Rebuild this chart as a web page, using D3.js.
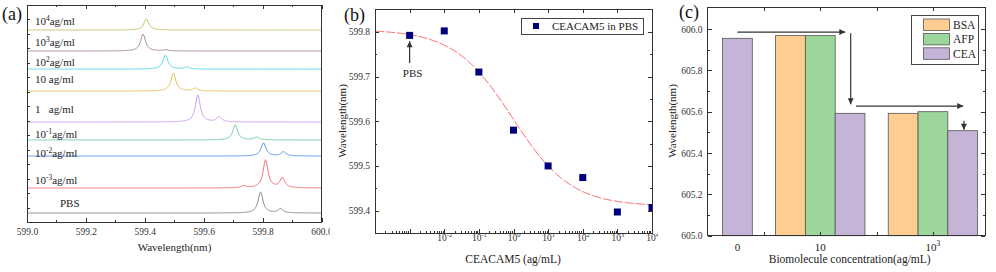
<!DOCTYPE html>
<html lang="en">
<head>
<meta charset="UTF-8">
<title>WGM spectral shift panels</title>
<script src="https://d3js.org/d3.v7.min.js"></script>
<style>
  body { margin: 0; background: #fff; }
  svg { display: block; font-family: "Liberation Serif", "Times New Roman", serif; }
  .axis path, .axis line { stroke: #333; shape-rendering: crispEdges; }
  .axis text { font-family: "Liberation Serif", "Times New Roman", serif; font-size: 9.5px; fill: #333; }
</style>
</head>
<body>
<script>
// ---- (a) spectra ----
const specLabels = ["10^4ag/ml", "10^3ag/ml", "10^2ag/ml", "10 ag/ml", "1   ag/ml", "10^-1ag/ml", "10^-2ag/ml", "10^-3ag/ml", "PBS"];
const specColors = ["#c8c36a", "#ad8c8c", "#55dde6", "#e6c25e", "#c9a2ee", "#72d0a2", "#5c96ee", "#f27474", "#8c8c8c"];
const specOffsets = [13.27, 11.82, 10.57, 9.05, 6.91, 5.67, 4.56, 2.35, 0.62];
// resonance peaks of each trace: [wavelength nm, height a.u.]
const specPeaks = [
  [[599.405, 0.76]],
  [[599.394, 1.17], [599.47, 0.08]],
  [[599.47, 0.97], [599.543, 0.14]],
  [[599.497, 1.24], [599.571, 0.2]],
  [[599.58, 1.87], [599.653, 0.35]],
  [[599.707, 1.04], [599.78, 0.2]],
  [[599.803, 0.9], [599.871, 0.28]],
  [[599.81, 1.94], [599.867, 0.69], [599.735, 0.14]],
  [[599.793, 1.45], [599.861, 0.28]]
];
const waveTicks = [599.0, 599.2, 599.4, 599.6, 599.8, 600.0];

// ---- (b) concentration response ----
const conc = [1e-3, 1e-2, 1e-1, 1, 10, 100, 1000, 10000];
const shiftWl = [599.792, 599.802, 599.710, 599.580, 599.500, 599.474, 599.397, 599.407];
const fitA1 = 599.805, fitA2 = 599.41, fitX0 = 0.935, fitP = 0.515;
const concTickExp = [-2, -1, 0, 1, 2, 3, 4];
const wlTicksB = [599.4, 599.5, 599.6, 599.7, 599.8];

// ---- (c) selectivity bars ----
const groups = ["0", "10", "10^3"];
const bioNames = ["BSA", "AFP", "CEA"];
const bioColors = ["#ffcc91", "#9dd69b", "#c5b4d8"];
const bsaWl = [null, 605.968, 605.592];
const afpWl = [null, 605.968, 605.600];
const ceaWl = [605.955, 605.592, 605.508];
const wlTicksC = [605.0, 605.2, 605.4, 605.6, 605.8, 606.0];

const svg = d3.select("body").append("svg").attr("width", 996).attr("height", 272);
const defs = svg.append("defs");
defs.append("marker").attr("id", "arrow")
  .attr("viewBox", "0 0 10 10").attr("refX", 10).attr("refY", 5)
  .attr("markerWidth", 7).attr("markerHeight", 6).attr("markerUnits", "userSpaceOnUse")
  .attr("orient", "auto")
  .append("path").attr("d", "M0,0L10,5L0,10z").attr("fill", "#333");

function supText(sel, str, size) {
  const parts = str.split(/\^(-?\d+)/);
  let raised = false;
  parts.forEach((p, i) => {
    if (i % 2 === 1) {
      sel.append("tspan").attr("font-size", size * 0.68).attr("dy", -size * 0.4).text(p);
      raised = true;
    } else if (p !== "") {
      sel.append("tspan").attr("dy", raised ? size * 0.4 : 0).text(p);
      raised = false;
    }
  });
}

function frame(g, l, t, r, b) {
  g.append("rect").attr("x", l).attr("y", t).attr("width", r - l).attr("height", b - t)
    .attr("fill", "none").attr("stroke", "#333").attr("shape-rendering", "crispEdges");
}

function ticksOnly(g, axis, tr) {
  g.append("g").attr("class", "axis").attr("transform", tr)
    .call(axis.tickFormat("").tickSizeOuter(0))
    .call(s => s.select(".domain").remove());
}

// ================= panel (a) =================
defs.append("clipPath").attr("id", "clipA").append("rect").attr("width", 330).attr("height", 272);
const gA = svg.append("g").attr("clip-path", "url(#clipA)");
const xA = d3.scaleLinear().domain([599, 600]).range([27, 321.5]);
const yA = d3.scaleLinear().domain([0, 15]).range([222, 5]);

const waveGrid = d3.range(599, 600.0001, 0.002);
const lorentz = (x, c, h) => h * 0.0001 / ((x - c) ** 2 + 0.0001);
const lineA = d3.line().x(d => xA(d[0])).y(d => yA(d[1]));

specPeaks.forEach((peaks, i) => {
  const pts = waveGrid.map(x => [x, specOffsets[i] + d3.sum(peaks, p => lorentz(x, p[0], p[1]))]);
  gA.append("path").datum(pts).attr("d", lineA)
    .attr("fill", "none").attr("stroke", specColors[i]).attr("stroke-width", 1);
});

const labelLift = [5, 5, 3, 8, 9, 2, -1, 4, 6];
specLabels.forEach((lab, i) => {
  const t = gA.append("text")
    .attr("x", lab === "PBS" ? 60 : 35)
    .attr("y", yA(specOffsets[i]) - labelLift[i])
    .attr("font-size", 11).attr("fill", "#222").style("white-space", "pre");
  supText(t, lab, 11);
});

gA.append("g").attr("class", "axis").attr("transform", "translate(0,222)")
  .call(d3.axisBottom(xA).tickValues(waveTicks).tickFormat(d3.format(".1f"))
    .tickSizeInner(-4).tickSizeOuter(0).tickPadding(6))
  .call(s => s.select(".domain").remove());
ticksOnly(gA, d3.axisBottom(xA).tickValues(d3.range(599.1, 600, 0.2)).tickSizeInner(-2), "translate(0,222)");
ticksOnly(gA, d3.axisTop(xA).tickValues(waveTicks).tickSizeInner(-4), "translate(0,5)");
ticksOnly(gA, d3.axisTop(xA).tickValues(d3.range(599.1, 600, 0.2)).tickSizeInner(-2), "translate(0,5)");
ticksOnly(gA, d3.axisLeft(yA).tickValues(d3.range(1, 15, 1)).tickSizeInner(-3), "translate(27,0)");
frame(gA, 27, 5, 321.5, 222);

gA.append("text").attr("x", 174.5).attr("y", 251).attr("text-anchor", "middle")
  .attr("font-size", 11).attr("fill", "#222").text("Wavelength(nm)");
gA.append("text").attr("x", 2).attr("y", 20).attr("font-size", 18).attr("fill", "#111").text("(a)");

// ================= panel (b) =================
defs.append("clipPath").attr("id", "clipB").append("rect").attr("x", 330).attr("width", 328).attr("height", 272);
defs.append("clipPath").attr("id", "plotB").append("rect").attr("x", 375).attr("y", 9).attr("width", 277).attr("height", 224);
const gB = svg.append("g").attr("clip-path", "url(#clipB)");
const xB = d3.scaleLog().domain([1e-4, 1e4]).range([375, 652]);
const yB = d3.scaleLinear().domain([599.35, 599.851]).range([233, 9]);

const decades = d3.range(-4, 5).map(e => Math.pow(10, e));
const minorB = [];
d3.range(-4, 4).forEach(e => d3.range(2, 10).forEach(k => minorB.push(k * Math.pow(10, e))));

const xAxisB = gB.append("g").attr("class", "axis").attr("transform", "translate(0,233)")
  .call(d3.axisBottom(xB).tickValues(concTickExp.map(e => Math.pow(10, e)))
    .tickSizeInner(-4).tickSizeOuter(0).tickPadding(8).tickFormat(""))
  .call(s => s.select(".domain").remove());
xAxisB.selectAll(".tick text").each(function(d, i) {
  supText(d3.select(this).attr("dy", "0.71em"), "10^" + concTickExp[i], 9.5);
});
ticksOnly(gB, d3.axisBottom(xB).tickValues(decades.slice(0, 3)).tickSizeInner(-4), "translate(0,233)");
ticksOnly(gB, d3.axisBottom(xB).tickValues(minorB).tickSizeInner(-2), "translate(0,233)");
ticksOnly(gB, d3.axisTop(xB).tickValues(decades).tickSizeInner(-4), "translate(0,9)");

gB.append("g").attr("class", "axis").attr("transform", "translate(375,0)")
  .call(d3.axisLeft(yB).tickValues(wlTicksB).tickFormat(d3.format(".1f"))
    .tickSizeInner(-4).tickSizeOuter(0).tickPadding(5))
  .call(s => s.select(".domain").remove());
ticksOnly(gB, d3.axisLeft(yB).tickValues(d3.range(599.45, 599.86, 0.1)).tickSizeInner(-2), "translate(375,0)");
ticksOnly(gB, d3.axisRight(yB).tickValues(wlTicksB).tickSizeInner(-4), "translate(652,0)");
ticksOnly(gB, d3.axisRight(yB).tickValues(d3.range(599.45, 599.86, 0.1)).tickSizeInner(-2), "translate(652,0)");

const plotB = gB.append("g").attr("clip-path", "url(#plotB)");
const fitPts = d3.range(-4, 4.001, 0.02).map(e => {
  const c = Math.pow(10, e);
  return [c, fitA2 + (fitA1 - fitA2) / (1 + Math.pow(c / fitX0, fitP))];
});
plotB.append("path").datum(fitPts)
  .attr("d", d3.line().x(d => xB(d[0])).y(d => yB(d[1])))
  .attr("fill", "none").attr("stroke", "#ff5a5a").attr("stroke-width", 1)
  .attr("stroke-dasharray", "9,2");
plotB.selectAll("rect.pt").data(conc).join("rect").attr("class", "pt")
  .attr("x", d => xB(d) - 3.5).attr("y", (d, i) => yB(shiftWl[i]) - 3.5)
  .attr("width", 7).attr("height", 7).attr("fill", "#00007f");

frame(gB, 375, 9, 652, 233);

// legend (b)
gB.append("rect").attr("x", 521).attr("y", 18).attr("width", 122).attr("height", 16)
  .attr("fill", "#fff").attr("stroke", "#444").attr("shape-rendering", "crispEdges");
gB.append("rect").attr("x", 533).attr("y", 23).attr("width", 6).attr("height", 6).attr("fill", "#00007f");
gB.append("text").attr("x", 552).attr("y", 30).attr("font-size", 11).attr("fill", "#222").text("CEACAM5 in PBS");

// PBS annotation
gB.append("line").attr("x1", xB(conc[0])).attr("x2", xB(conc[0]))
  .attr("y1", yB(599.7305)).attr("y2", yB(599.779))
  .attr("stroke", "#333").attr("stroke-width", 1.2).attr("marker-end", "url(#arrow)");
gB.append("text").attr("x", xB(conc[0]) + 3).attr("y", 77).attr("text-anchor", "middle")
  .attr("font-size", 11).attr("fill", "#222").text("PBS");

gB.append("text").attr("transform", "translate(346,121) rotate(-90)").attr("text-anchor", "middle")
  .attr("font-size", 11).attr("fill", "#222").text("Wavelength(nm)");
gB.append("text").attr("x", 513).attr("y", 263).attr("text-anchor", "middle")
  .attr("font-size", 11.5).attr("fill", "#222").text("CEACAM5 (ag/mL)");
gB.append("text").attr("x", 344).attr("y", 21).attr("font-size", 18).attr("fill", "#111").text("(b)");

// ================= panel (c) =================
const gC = svg.append("g");
const xC = d3.scaleLinear().domain([0, 2.462]).range([707.6, 985]);
const yC = d3.scaleLinear().domain([605, 606.105]).range([235.7, 7.3]);
const bw = 0.2645;
const seriesC = [bsaWl, afpWl, ceaWl];

// flat list of bars: group index, series index, value
const barsC = [];
seriesC.forEach((vals, s) => vals.forEach((v, g) => { if (v !== null) barsC.push({ g, s, v }); }));
const barCenter = b => b.g + (b.s - 1) * bw;

gC.selectAll("rect.bar").data(barsC).join("rect").attr("class", "bar")
  .attr("x", b => xC(barCenter(b) - bw / 2))
  .attr("y", b => yC(b.v))
  .attr("width", xC(bw) - xC(0))
  .attr("height", b => yC(605) - yC(b.v))
  .attr("fill", b => bioColors[b.s]).attr("stroke", "#555").attr("stroke-width", 0.8);

gC.append("g").attr("class", "axis").attr("transform", "translate(707.6,0)")
  .call(d3.axisLeft(yC).tickValues(wlTicksC).tickFormat(d3.format(".1f"))
    .tickSizeInner(-4).tickSizeOuter(0).tickPadding(5))
  .call(s => s.select(".domain").remove());
ticksOnly(gC, d3.axisLeft(yC).tickValues(d3.range(605.1, 606.05, 0.2)).tickSizeInner(-2), "translate(707.6,0)");
ticksOnly(gC, d3.axisRight(yC).tickValues(wlTicksC).tickSizeInner(-4), "translate(985,0)");
ticksOnly(gC, d3.axisRight(yC).tickValues(d3.range(605.1, 606.05, 0.2)).tickSizeInner(-2), "translate(985,0)");
ticksOnly(gC, d3.axisBottom(xC).tickValues([0.5, 1, 1.5, 2]).tickSizeInner(-4), "translate(0,235.7)");
ticksOnly(gC, d3.axisTop(xC).tickValues([0.5, 1, 1.5, 2]).tickSizeInner(-4), "translate(0,7.3)");
frame(gC, 707.6, 7.3, 985, 235.7);

groups.forEach((lab, g) => {
  const cx = d3.mean(barsC.filter(b => b.g === g), barCenter);
  const t = gC.append("text").attr("x", xC(cx)).attr("y", 250.5).attr("text-anchor", "middle")
    .attr("font-size", 11).attr("fill", "#222");
  supText(t, lab, 11);
});

// shift arrows
const arrowsC = [
  [[0.264, 605.985], [1.222, 605.985]],
  [[1.27, 605.98], [1.27, 605.636]],
  [[1.317, 605.627], [2.269, 605.627]],
  [[2.275, 605.556], [2.275, 605.512]]
];
arrowsC.forEach(a => {
  gC.append("line").attr("x1", xC(a[0][0])).attr("y1", yC(a[0][1]))
    .attr("x2", xC(a[1][0])).attr("y2", yC(a[1][1]))
    .attr("stroke", "#333").attr("stroke-width", 1.2).attr("marker-end", "url(#arrow)");
});

// legend (c)
gC.append("rect").attr("x", 911.7).attr("y", 15).attr("width", 66.6).attr("height", 49.3)
  .attr("fill", "#fff").attr("stroke", "#444").attr("shape-rendering", "crispEdges");
bioNames.forEach((n, i) => {
  gC.append("rect").attr("x", 923.5).attr("y", 19 + i * 14.4).attr("width", 26).attr("height", 11.5)
    .attr("fill", bioColors[i]).attr("stroke", "#555").attr("stroke-width", 0.8);
  gC.append("text").attr("x", 953).attr("y", 29 + i * 14.4).attr("font-size", 11.5)
    .attr("fill", "#222").text(n);
});

gC.append("text").attr("transform", "translate(676,121) rotate(-90)").attr("text-anchor", "middle")
  .attr("font-size", 11).attr("fill", "#222").text("Wavelength(nm)");
gC.append("text").attr("x", 849.7).attr("y", 263).attr("text-anchor", "middle")
  .attr("font-size", 11.5).attr("fill", "#222").text("Biomolecule concentration(ag/mL)");
gC.append("text").attr("x", 679).attr("y", 18).attr("font-size", 18).attr("fill", "#111").text("(c)");
</script>
</body>
</html>
